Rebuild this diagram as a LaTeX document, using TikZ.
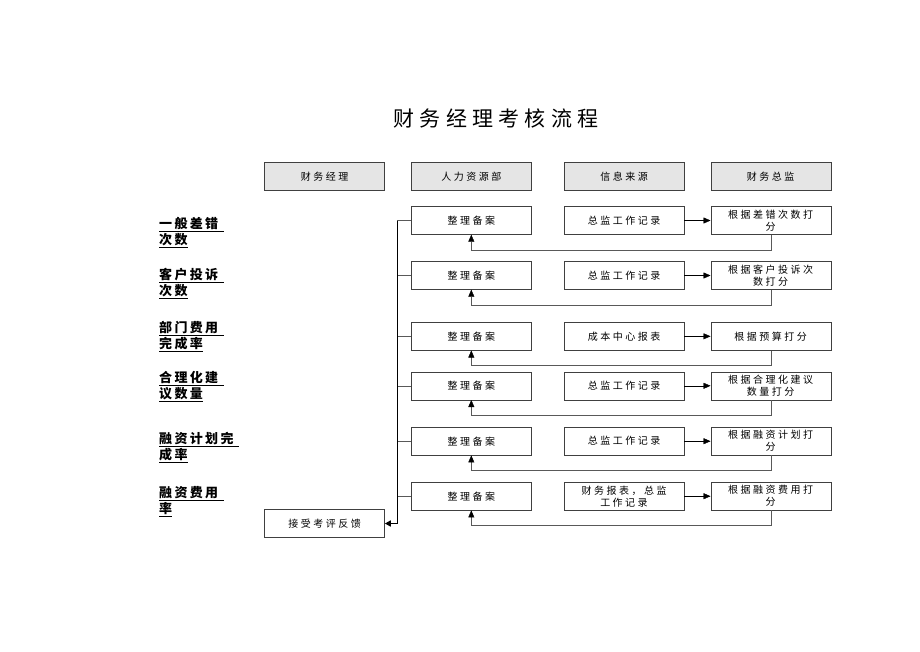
\documentclass[tikz,border=0pt]{standalone}
\usepackage{fontspec}
\setmainfont{Noto Sans CJK SC}
\newfontfamily\boxfont[LetterSpace=25]{Noto Sans CJK SC}
\newfontfamily\titlefont[LetterSpace=25]{Noto Sans CJK SC}
\newfontfamily\critfont[LetterSpace=18]{Noto Sans CJK SC}
\usetikzlibrary{arrows.meta}

\begin{document}
\begin{tikzpicture}[x=1pt, y=-1pt,
   headbox/.style={draw=black!75, fill=black!10, minimum width=120pt, minimum height=28pt,
     inner sep=1pt, font=\boxfont\fontsize{10}{12}\selectfont},
   rowbox/.style={draw=black!75, fill=white, minimum width=120pt, minimum height=28pt,
     inner sep=1pt, align=center, font=\boxfont\fontsize{10}{12}\selectfont},
   crit/.style={anchor=north west, inner sep=0pt, align=left,
     font=\critfont\bfseries\fontsize{13}{16}\selectfont},
   fbline/.style={draw=black!65, -{Triangle[length=7pt,width=6pt,black]}},
   stub/.style={draw=black!65},
   fwdline/.style={draw=black, -{Triangle[length=7pt,width=6pt]}},
   bus/.style={draw=black, line width=1.6pt}]

\useasboundingbox (0,0) rectangle (920,651);

\node[font=\titlefont\fontsize{21}{24}\selectfont] (title) at (496,118) {财务经理考核流程};

% column heads
\node[headbox] (h1) at (324.6,176.5) {财务经理};
\node[headbox] (h2) at (471.3,176.5) {人力资源部};
\node[headbox] (h3) at (624,176.5) {信息来源};
\node[headbox] (h4) at (770.7,176.5) {财务总监};

% criteria on the left
\foreach \i/\y/\a/\b in {1/217/一般差错/次数, 2/268/客户投诉/次数, 3/321/部门费用/完成率,
                        4/371/合理化建/议数量, 5/432/融资计划完/成率, 6/486/融资费用/率}
  \node[crit] (c\i) at (159,\y) {\underline{\a\ }\\\underline{\b}};

% one row per criterion
\foreach \i/\y/\src/\res in {1/220.5/{总监工作记录}/{根据差错次数打\\分},
                            2/275.5/{总监工作记录}/{根据客户投诉次\\数打分},
                            3/336.3/{成本中心报表}/{根据预算打分},
                            4/385.8/{总监工作记录}/{根据合理化建议\\数量打分},
                            5/441.2/{总监工作记录}/{根据融资计划打\\分},
                            6/496.2/{财务报表，总监\\工作记录}/{根据融资费用打\\分}}
{
  \node[rowbox] (r\i) at (471.3,\y) {整理备案};
  \node[rowbox] (s\i) at (624,\y) {\src};
  \node[rowbox] (k\i) at (770.7,\y) {\res};
  \draw[fwdline] (s\i.east) -- (k\i.west);
  \draw[fbline] (k\i.south) -- ++(0,15) -| (r\i.south);
  \draw[stub] (397.3,\y) -- (r\i.west);
}

% feedback to the manager
\node[rowbox] (fb) at (324.6,523.5) {接受考评反馈};
\coordinate (bustop) at (397.3,220.5);
\draw[bus, -{Triangle[length=6pt,width=6pt]}] (bustop) |- (fb.east);

\end{tikzpicture}
\end{document}
